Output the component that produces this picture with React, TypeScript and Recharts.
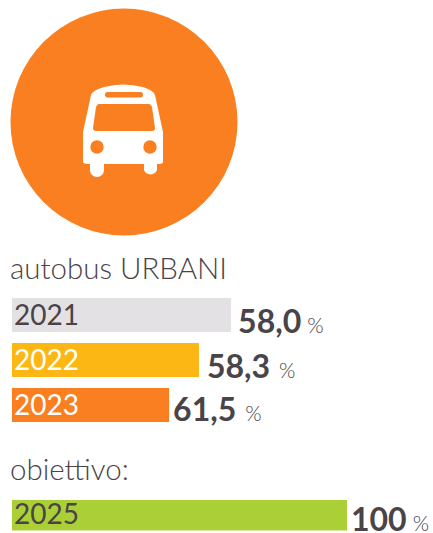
import { Bar, BarChart, Cell, LabelList, XAxis, YAxis } from "recharts";

// Bar lengths do not follow the printed percentages in the original, so both are kept
const years = ["2021", "2022", "2023"];
const barLengths = [65.4, 55.8, 46.9];
const printedValues = ["58,0", "58,3", "61,5"];
const barColors = ["#e3e1e4", "#fdb714", "#f97f20"];

const targetYears = ["2025"];
const targetLengths = [100];
const targetValues = ["100"];
const targetColors = ["#abd037"];

const DARK = "#4a4347";
const FONT = "Lato, sans-serif";

const rows = years.map((year, i) => ({
  year,
  length: barLengths[i],
  printed: printedValues[i],
  color: barColors[i],
}));

const targetRows = targetYears.map((year, i) => ({
  year,
  length: targetLengths[i],
  printed: targetValues[i],
  color: targetColors[i],
}));

function YearLabel({ x, y, height, value }: any) {
  const light = value === "2022" || value === "2023";
  return (
    <text
      x={x + 2}
      y={y + height - 7}
      fontFamily={FONT}
      fontWeight={400}
      fontSize={28}
      fill={light ? "#ffffff" : DARK}
    >
      {value}
    </text>
  );
}

function ValueLabel({ x, y, width, height, value, dx = 6, dy = 0, gap = 6 }: any) {
  return (
    <text x={x + width + dx} y={y + height + dy} fontFamily={FONT} fill={DARK}>
      <tspan fontWeight={700} fontSize={32}>
        {value}
      </tspan>
      <tspan fontWeight={300} fontSize={21} dx={gap}>
        %
      </tspan>
    </text>
  );
}

function YearBars({ data, height, top, bottom, valueLabel }: any) {
  return (
    <BarChart
      width={433}
      height={height}
      data={data}
      layout="vertical"
      margin={{ top, right: 86, bottom, left: 12 }}
    >
      <XAxis type="number" domain={[0, 100]} hide />
      <YAxis type="category" dataKey="year" hide />
      <Bar dataKey="length" barSize={34} isAnimationActive={false}>
        {data.map((row: any) => (
          <Cell key={row.year} fill={row.color} />
        ))}
        <LabelList dataKey="year" content={YearLabel} />
        <LabelList dataKey="printed" content={valueLabel} />
      </Bar>
    </BarChart>
  );
}

const yearValueLabel = (props: any) => {
  const idx = printedValues.indexOf(props.value);
  const dx = [7, 8, 4][idx];
  const dy = [1, 1, -1][idx];
  return <ValueLabel {...props} dx={dx} dy={dy} gap={[6, 9, 9][idx]} />;
};

const targetValueLabel = (props: any) => <ValueLabel {...props} dx={4} dy={0} gap={6} />;

function BusBadge() {
  return (
    <svg width={433} height={245} style={{ position: "absolute", left: 0, top: 0 }}>
      <circle cx={124} cy={122} r={113.5} fill="#f97f20" />
      <path
        fill="#ffffff"
        d="M83 132 L91 95 Q93 90 104 87 Q123 82 143 87 Q153 90 155 95 L163 132 L163 162 Q163 164 157 164 L157 170 A7 7 0 0 1 144 170 L144 164 L104 164 L104 170 A7 7 0 0 1 90 170 L90 164 Q83 164 83 162 Z"
      />
      <path
        fill="#f97f20"
        d="M99 104 L149 104 Q151 104 152 107 L155 128 Q155 131 152 131 L96 131 Q93 131 93 128 L96 107 Q97 104 99 104 Z"
      />
      <rect x={105} y={92} width={38} height={5.5} rx={2.7} fill="#f97f20" />
      <circle cx={97} cy={147} r={6.7} fill="#f97f20" />
      <circle cx={150} cy={147} r={6.7} fill="#f97f20" />
    </svg>
  );
}

export default function App() {
  const heading = {
    position: "absolute" as const,
    left: 10,
    margin: 0,
    fontFamily: FONT,
    fontWeight: 300,
    fontSize: 29.5,
    lineHeight: "34px",
    color: DARK,
    whiteSpace: "nowrap" as const,
  };
  return (
    <div style={{ position: "absolute", left: 0, top: 0, width: 433, height: 533, overflow: "hidden", background: "#fff" }}>
      <BusBadge />
      <div style={{ ...heading, top: 251 }}>autobus URBANI</div>
      <div style={{ position: "absolute", left: 0, top: 291 }}>
        <YearBars data={rows} height={137} top={1} bottom={1} valueLabel={yearValueLabel} />
      </div>
      <div style={{ ...heading, top: 452 }}>obiettivo:</div>
      <div style={{ position: "absolute", left: 0, top: 491 }}>
        <YearBars data={targetRows} height={42} top={7} bottom={1} valueLabel={targetValueLabel} />
      </div>
    </div>
  );
}
